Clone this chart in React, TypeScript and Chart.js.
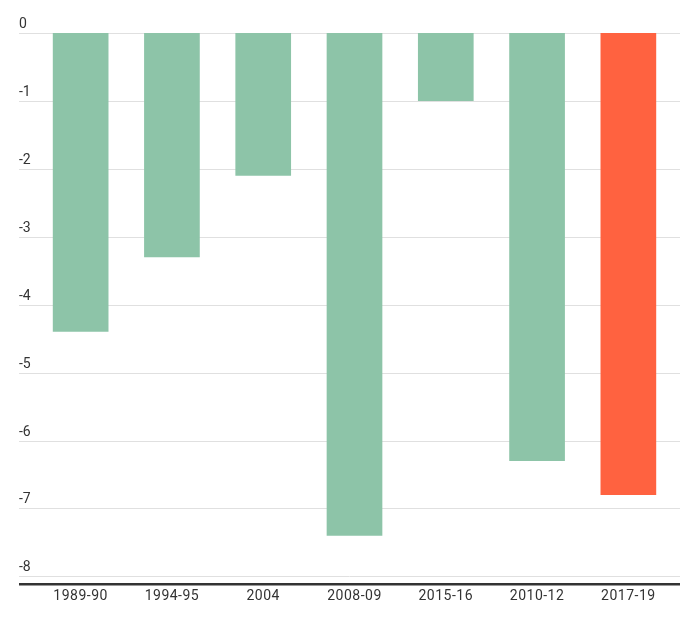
import React, { useEffect, useRef } from "react";
import { Chart, registerables } from "chart.js";

Chart.register(...registerables);

const categories = ["1989-90", "1994-95", "2004", "2008-09", "2015-16", "2010-12", "2017-19"];
const values = [-4.4, -3.3, -2.1, -7.4, -1.0, -6.3, -6.8];
const barColors = ["#8dc4a8", "#8dc4a8", "#8dc4a8", "#8dc4a8", "#8dc4a8", "#8dc4a8", "#ff6240"];
const yTicks = [0, -1, -2, -3, -4, -5, -6, -7, -8];
const yMin = -8.1;
const yMax = 0;

const gridPlugin = {
  id: "customGrid",
  beforeDraw(chart: any) {
    chart.ctx.letterSpacing = "0.5px";
  },
  beforeDatasetsDraw(chart: any) {
    const { ctx } = chart;
    const y = chart.scales.y;
    const left = 19;
    const right = 680;
    ctx.save();
    ctx.letterSpacing = "0px";
    ctx.strokeStyle = "#e0e0e0";
    ctx.lineWidth = 1;
    ctx.font = "14px Roboto";
    ctx.fillStyle = "#333333";
    ctx.textAlign = "left";
    ctx.textBaseline = "alphabetic";
    yTicks.forEach((v) => {
      const py = Math.round(y.getPixelForValue(v)) + 0.5;
      ctx.beginPath();
      ctx.moveTo(left, py);
      ctx.lineTo(right, py);
      ctx.stroke();
      ctx.fillText(String(v), left, py - 5.5);
    });
    ctx.restore();
  },
  afterDatasetsDraw(chart: any) {
    const { ctx, chartArea } = chart;
    ctx.save();
    ctx.strokeStyle = "#333333";
    ctx.lineWidth = 2.5;
    ctx.beginPath();
    ctx.moveTo(19, chartArea.bottom + 1);
    ctx.lineTo(680, chartArea.bottom + 1);
    ctx.stroke();
    ctx.restore();
  },
};

export default function App() {
  const ref = useRef<HTMLCanvasElement>(null);
  useEffect(() => {
    if (!ref.current) return;
    const chart = new Chart(ref.current, {
      type: "bar",
      data: {
        labels: categories,
        datasets: [
          {
            data: values,
            backgroundColor: barColors,
            borderWidth: 0,
            barPercentage: 0.61,
            categoryPercentage: 1,
          },
        ],
      },
      options: {
        animation: false,
        responsive: true,
        maintainAspectRatio: false,
        layout: { padding: { left: 35, right: 20, top: 33, bottom: 19 } },
        plugins: { legend: { display: false }, tooltip: { enabled: false } },
        scales: {
          x: {
            grid: { display: false, drawTicks: false },
            border: { display: false },
            ticks: { font: { family: "Roboto", size: 14 }, color: "#333333", padding: 5, maxRotation: 0 },
          },
          y: {
            min: yMin,
            max: yMax,
            grid: { display: false, drawTicks: false },
            border: { display: false },
            ticks: { display: false, stepSize: 1 },
          },
        },
      },
      plugins: [gridPlugin],
    });
    return () => chart.destroy();
  }, []);
  return (
    <div style={{ position: "fixed", left: 0, top: 0, width: 694, height: 629, background: "#fff" }}>
      <canvas ref={ref} />
    </div>
  );
}
